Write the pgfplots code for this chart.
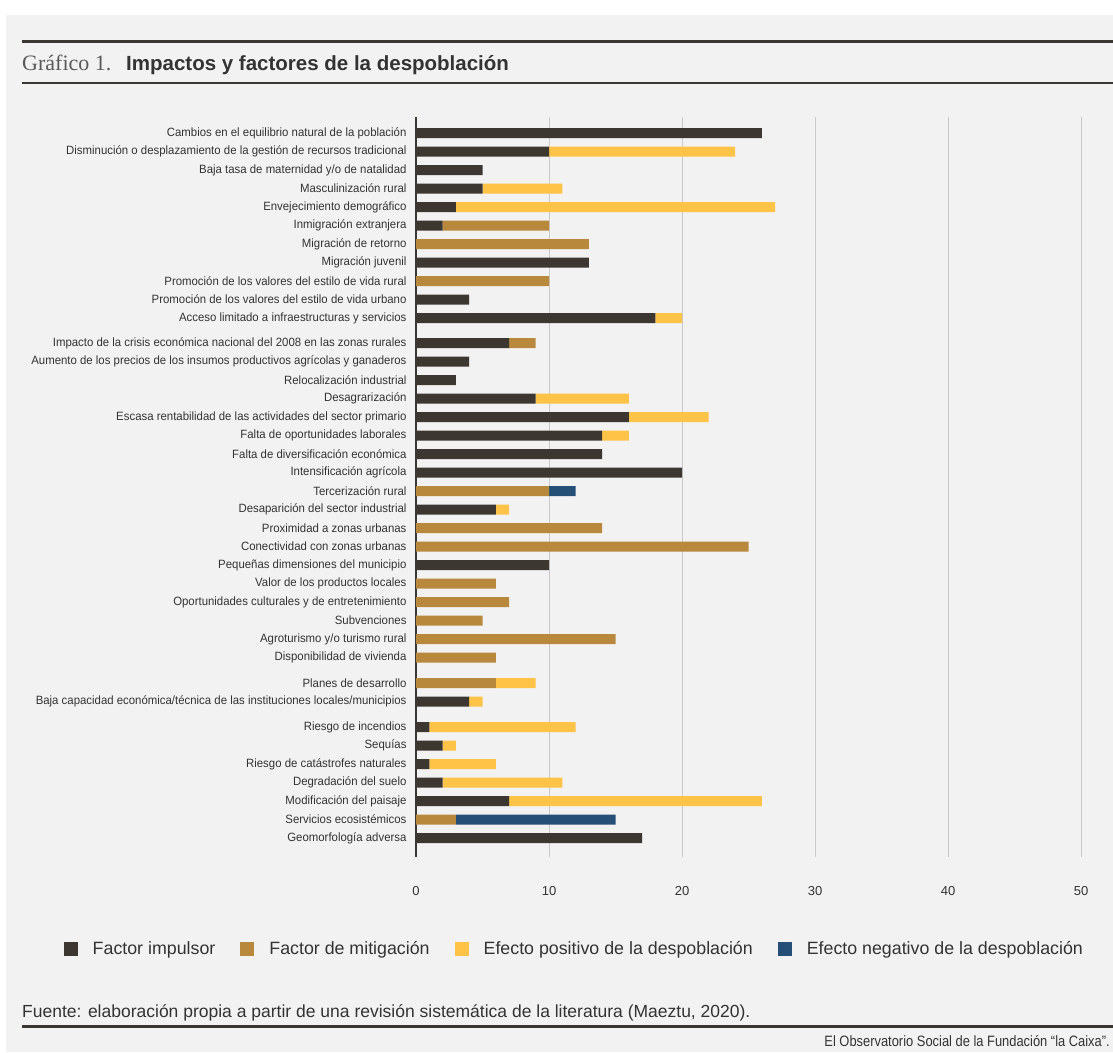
\documentclass[border=0pt]{standalone}
\usepackage{fontspec}
\setmainfont{Liberation Sans}
\newfontfamily\serifx{Liberation Serif}
\newfontfamily\narrowx[FakeStretch=0.86]{Liberation Sans}
\newfontfamily\labelx[FakeStretch=0.95]{Liberation Sans}
\usepackage{pgfplots}
\usepackage{pgfplotstable}
\pgfplotsset{compat=1.18}

\definecolor{cimp}{HTML}{3D3732}
\definecolor{cmit}{HTML}{B8893D}
\definecolor{cpos}{HTML}{FFC347}
\definecolor{cneg}{HTML}{264F77}
\definecolor{bg}{HTML}{F2F2F2}
\definecolor{gridc}{HTML}{CACACA}
\definecolor{txt}{HTML}{333333}
\definecolor{rulec}{HTML}{3A3632}

\pgfplotsset{sqlegend/.style={legend image code/.code={%
  \fill[##1] (0pt,-7pt) rectangle (14pt,7pt);
  \path[draw=none, fill=none] (0pt,-7pt) rectangle (27pt,7pt);}}}

% y = row position (px from top), a = factor impulsor, b = mitigacion,
% c = efecto positivo, d = efecto negativo
\pgfplotstableread[col sep=semicolon]{
y;a;b;c;d;label
133;26;0;0;0;Cambios en el equilibrio natural de la población
151.5;10;0;14;0;Disminución o desplazamiento de la gestión de recursos tradicional
170;5;0;0;0;Baja tasa de maternidad y/o de natalidad
188.5;5;0;6;0;Masculinización rural
207;3;0;24;0;Envejecimiento demográfico
225.5;2;8;0;0;Inmigración extranjera
244;0;13;0;0;Migración de retorno
262.5;13;0;0;0;Migración juvenil
281;0;10;0;0;Promoción de los valores del estilo de vida rural
299.5;4;0;0;0;Promoción de los valores del estilo de vida urbano
318;18;0;2;0;Acceso limitado a infraestructuras y servicios
343;7;2;0;0;Impacto de la crisis económica nacional del 2008 en las zonas rurales
361.5;4;0;0;0;Aumento de los precios de los insumos productivos agrícolas y ganaderos
380;3;0;0;0;Relocalización industrial
398.5;9;0;7;0;Desagrarización
417;16;0;6;0;Escasa rentabilidad de las actividades del sector primario
435.5;14;0;2;0;Falta de oportunidades laborales
454;14;0;0;0;Falta de diversificación económica
472.5;20;0;0;0;Intensificación agrícola
491;0;10;0;2;Tercerización rural
509.5;6;0;1;0;Desaparición del sector industrial
528;0;14;0;0;Proximidad a zonas urbanas
546.5;0;25;0;0;Conectividad con zonas urbanas
565;10;0;0;0;Pequeñas dimensiones del municipio
583.5;0;6;0;0;Valor de los productos locales
602;0;7;0;0;Oportunidades culturales y de entretenimiento
620.5;0;5;0;0;Subvenciones
639;0;15;0;0;Agroturismo y/o turismo rural
657.5;0;6;0;0;Disponibilidad de vivienda
683;0;6;3;0;Planes de desarrollo
701.5;4;0;1;0;Baja capacidad económica/técnica de las instituciones locales/municipios
727;1;0;11;0;Riesgo de incendios
745.5;2;0;1;0;Sequías
764;1;0;5;0;Riesgo de catástrofes naturales
782.5;2;0;9;0;Degradación del suelo
801;7;0;19;0;Modificación del paisaje
819.5;0;3;0;12;Servicios ecosistémicos
838;17;0;0;0;Geomorfología adversa
}\data

\begin{document}
\begin{tikzpicture}
\path[use as bounding box] (0pt,0pt) rectangle (1113pt,-1052pt);
\fill[white] (0pt,0pt) rectangle (1113pt,-1052pt);
\fill[bg] (6pt,-15pt) rectangle (1113pt,-1052pt);

% heading
\fill[rulec] (22pt,-39.5pt) rectangle (1113pt,-42.5pt);
\fill[rulec] (22pt,-81.5pt) rectangle (1113pt,-84pt);
\node[anchor=base west, inner sep=0pt, text=black!65] at (22pt,-70pt)
  {\fontsize{22}{22}\serifx Gráfico 1.};
\node[anchor=base west, inner sep=0pt, text=txt] at (126pt,-70pt)
  {\fontsize{20.5}{20.5}\selectfont\bfseries Impactos y factores de la despoblación};

\begin{axis}[
  at={(416pt,-857pt)}, anchor=south west,
  scale only axis, width=697pt, height=740pt,
  xbar stacked, bar width=10,
  xmin=0, xmax=52.4,
  ymin=117, ymax=857, y dir=reverse,
  axis line style={draw=none},
  xtick={10,20,30,40,50},
  extra x ticks={0},
  extra x tick style={grid style={draw=cimp, line width=1.3pt}},
  xmajorgrids, grid style={draw=gridc, line width=1pt},
  major tick length=0pt,
  /pgf/number format/assume math mode=true,
  ytick=data,
  yticklabels from table={\data}{label},
  yticklabel style={font=\fontsize{12}{12}\labelx, text=txt, xshift=-6pt},
  xticklabel style={font=\fontsize{13}{13}\selectfont, text=txt, yshift=-26pt},
  legend columns=4,
  legend style={at={(-0.51,-0.124)}, anchor=west, draw=none, fill=none,
    font=\fontsize{17.8}{17.8}\selectfont, text=txt,
    /tikz/every even column/.append style={column sep=23pt}},
]
\addplot[fill=cimp, draw=none, sqlegend] table[x=a, y=y] {\data};
\addplot[fill=cmit, draw=none, sqlegend] table[x=b, y=y] {\data};
\addplot[fill=cpos, draw=none, sqlegend] table[x=c, y=y] {\data};
\addplot[fill=cneg, draw=none, sqlegend] table[x=d, y=y] {\data};
\legend{Factor impulsor, Factor de mitigación, Efecto positivo de la despoblación, Efecto negativo de la despoblación}
\end{axis}

% footer
\node[anchor=base west, inner sep=0pt, text=txt] at (22pt,-1017pt)
  {\fontsize{17.5}{17.5}\selectfont Fuente: elaboración propia a partir de una revisión sistemática de la literatura (Maeztu, 2020).};
\fill[rulec] (22pt,-1024.5pt) rectangle (1113pt,-1027.5pt);
\node[anchor=base east, inner sep=0pt, text=txt] at (1110pt,-1046pt)
  {\fontsize{15}{15}\narrowx El Observatorio Social de la Fundación “la Caixa”.};
\end{tikzpicture}
\end{document}
